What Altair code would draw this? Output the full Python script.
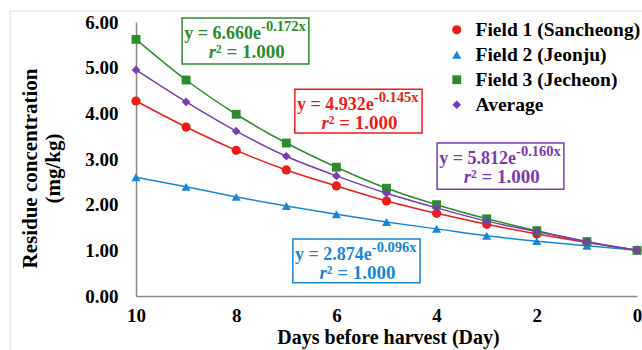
import altair as alt
import pandas as pd

# ---- data ----
days = [10, 9, 8, 7, 6, 5, 4, 3, 2, 1, 0]
series_names = ["Field 1 (Sancheong)", "Field 2 (Jeonju)", "Field 3 (Jecheon)", "Average"]
field1 = [4.27, 3.70, 3.19, 2.76, 2.41, 2.08, 1.81, 1.57, 1.36, 1.17, 1.00]
field2 = [2.60, 2.39, 2.17, 1.97, 1.79, 1.62, 1.47, 1.32, 1.20, 1.10, 1.00]
field3 = [5.62, 4.73, 3.98, 3.35, 2.82, 2.36, 2.00, 1.69, 1.43, 1.19, 1.00]
average = [4.95, 4.25, 3.61, 3.06, 2.63, 2.25, 1.93, 1.64, 1.41, 1.19, 1.00]
colors = ["#ee1c1c", "#1a86d6", "#2e8b2e", "#7a3cb0"]
shapes = ["circle", "triangle-up", "square", "diamond"]
sizes = [85, 75, 80, 55]

y_ticks = [0, 1, 2, 3, 4, 5, 6]
x_ticks = [0, 2, 4, 6, 8, 10]

# annotation boxes (fitted equations shown in the figure)
ann_series = ["Field 3 (Jecheon)", "Field 1 (Sancheong)", "Average", "Field 2 (Jeonju)"]
ann_left = [9.08, 6.83, 3.99, 6.87]
ann_right = [6.55, 4.29, 1.46, 4.33]
ann_top = [6.09, 4.53, 3.35, 1.25]
ann_bottom = [5.08, 3.57, 2.34, 0.29]
ann_main = ["y = 6.660e", "y = 4.932e", "y = 5.812e", "y = 2.874e"]
ann_exp = ["-0.172x", "-0.145x", "-0.160x", "-0.096x"]
ann_r = ["r", "r", "r", "r"]
ann_rest = ["² = 1.000", "² = 1.000", "² = 1.000", "² = 1.000"]

FONT = "Liberation Serif"

rows = []
for name, vals in zip(series_names, [field1, field2, field3, average]):
    for d, v in zip(days, vals):
        rows.append({"day": d, "conc": v, "series": name})
df = pd.DataFrame(rows)

color_of = dict(zip(series_names, colors))
ann = pd.DataFrame({
    "series": ann_series, "left": ann_left, "right": ann_right,
    "top": ann_top, "bottom": ann_bottom, "main": ann_main,
    "exp": ann_exp, "r": ann_r, "rest": ann_rest,
})
ann["col"] = ann["series"].map(color_of)

xscale = alt.Scale(domain=[10, 0], nice=False, zero=False)
yscale = alt.Scale(domain=[0, 6], nice=False)

x_enc = alt.X("day:Q", scale=xscale, axis=alt.Axis(
    values=x_ticks, format="d", grid=False, ticks=False, tickSize=0,
    domainColor="#8a8a8a", domainWidth=1.5,
    labelFont=FONT, labelFontWeight="bold", labelFontSize=19, labelColor="black",
    labelPadding=10, labelFlush=False,
    title="Days before harvest (Day)", titleFont=FONT, titleFontWeight="bold",
    titleFontSize=20, titleColor="black", titleBaseline="alphabetic",
    titleY=47, titleX=252))
y_enc = alt.Y("conc:Q", scale=yscale, axis=alt.Axis(
    values=y_ticks, format=".2f", grid=False, ticks=False, tickSize=0,
    domainColor="#8a8a8a", domainWidth=1.5,
    labelFont=FONT, labelFontWeight="bold", labelFontSize=19, labelColor="black",
    labelPadding=18,
    title=["Residue concentration", "(mg/kg)"], titleFont=FONT, titleFontWeight="bold",
    titleFontSize=21, titleColor="black", titleLineHeight=23,
    titleAngle=270, titleAlign="center", titleBaseline="alphabetic",
    titleX=-100, titleY=146))

legend = alt.Legend(orient="none", legendX=311, legendY=-2, title=None,
                    labelFont=FONT, labelFontWeight="bold", labelFontSize=19.5,
                    labelColor="black", labelLimit=0, symbolSize=50, labelOffset=9,
                    rowPadding=4, padding=0, symbolStrokeWidth=0)
color_enc = alt.Color("series:N", scale=alt.Scale(domain=series_names, range=colors),
                      legend=legend, sort=series_names)
shape_enc = alt.Shape("series:N", scale=alt.Scale(domain=series_names, range=shapes),
                      legend=legend, sort=series_names)
size_enc = alt.Size("series:N", scale=alt.Scale(domain=series_names, range=sizes),
                    legend=None)

base = alt.Chart(df)
lines = base.mark_line(interpolate="monotone", strokeWidth=1.5).encode(
    x=x_enc, y=y_enc, color=color_enc, detail="series:N", order="day:Q")
points = base.mark_point(filled=True, opacity=1).encode(
    x=x_enc, y=y_enc, color=color_enc, shape=shape_enc, size=size_enc)

abase = alt.Chart(ann)
boxes = abase.mark_rect(fill="white", strokeWidth=1.5).encode(
    x=alt.X("left:Q", scale=xscale), x2="right:Q",
    y=alt.Y("top:Q", scale=yscale), y2="bottom:Q",
    stroke=alt.Stroke("col:N", scale=None))
t_main = abase.mark_text(align="right", baseline="alphabetic", dx=79, dy=21,
                         font=FONT, fontWeight="bold", fontSize=18).encode(
    x=alt.X("left:Q", scale=xscale), y=alt.Y("top:Q", scale=yscale),
    text="main:N", color=alt.Color("col:N", scale=None))
t_exp = abase.mark_text(align="left", baseline="alphabetic", dx=79, dy=13,
                        font=FONT, fontWeight="bold", fontSize=14.5).encode(
    x=alt.X("left:Q", scale=xscale), y=alt.Y("top:Q", scale=yscale),
    text="exp:N", color=alt.Color("col:N", scale=None))
t_r = abase.mark_text(align="right", baseline="alphabetic", dx=34, dy=40,
                      font=FONT, fontWeight="bold", fontStyle="italic", fontSize=19).encode(
    x=alt.X("left:Q", scale=xscale), y=alt.Y("top:Q", scale=yscale),
    text="r:N", color=alt.Color("col:N", scale=None))
t_rest = abase.mark_text(align="left", baseline="alphabetic", dx=34, dy=40,
                         font=FONT, fontWeight="bold", fontSize=19).encode(
    x=alt.X("left:Q", scale=xscale), y=alt.Y("top:Q", scale=yscale),
    text="rest:N", color=alt.Color("col:N", scale=None))

frame_top = alt.Chart(pd.DataFrame({"a": [0]})).mark_rule(color="#dcdcdc", strokeWidth=1).encode(
    x=alt.value(-126), x2=alt.value(520), y=alt.value(-11))
frame_left = alt.Chart(pd.DataFrame({"a": [0]})).mark_rule(color="#dcdcdc", strokeWidth=1).encode(
    x=alt.value(-126), y=alt.value(-11), y2=alt.value(340))

chart = alt.layer(frame_top, frame_left, lines, points, boxes, t_main, t_exp, t_r, t_rest).resolve_scale(
    color="shared"
).properties(
    width=501, height=274,
    padding={"left": 136, "top": 22, "right": 5, "bottom": 54},
    autosize=alt.AutoSizeParams(type="none"),
    background="white",
).configure_view(stroke=None)

chart.save("out.html", embed_options={"renderer": "svg", "actions": False})
